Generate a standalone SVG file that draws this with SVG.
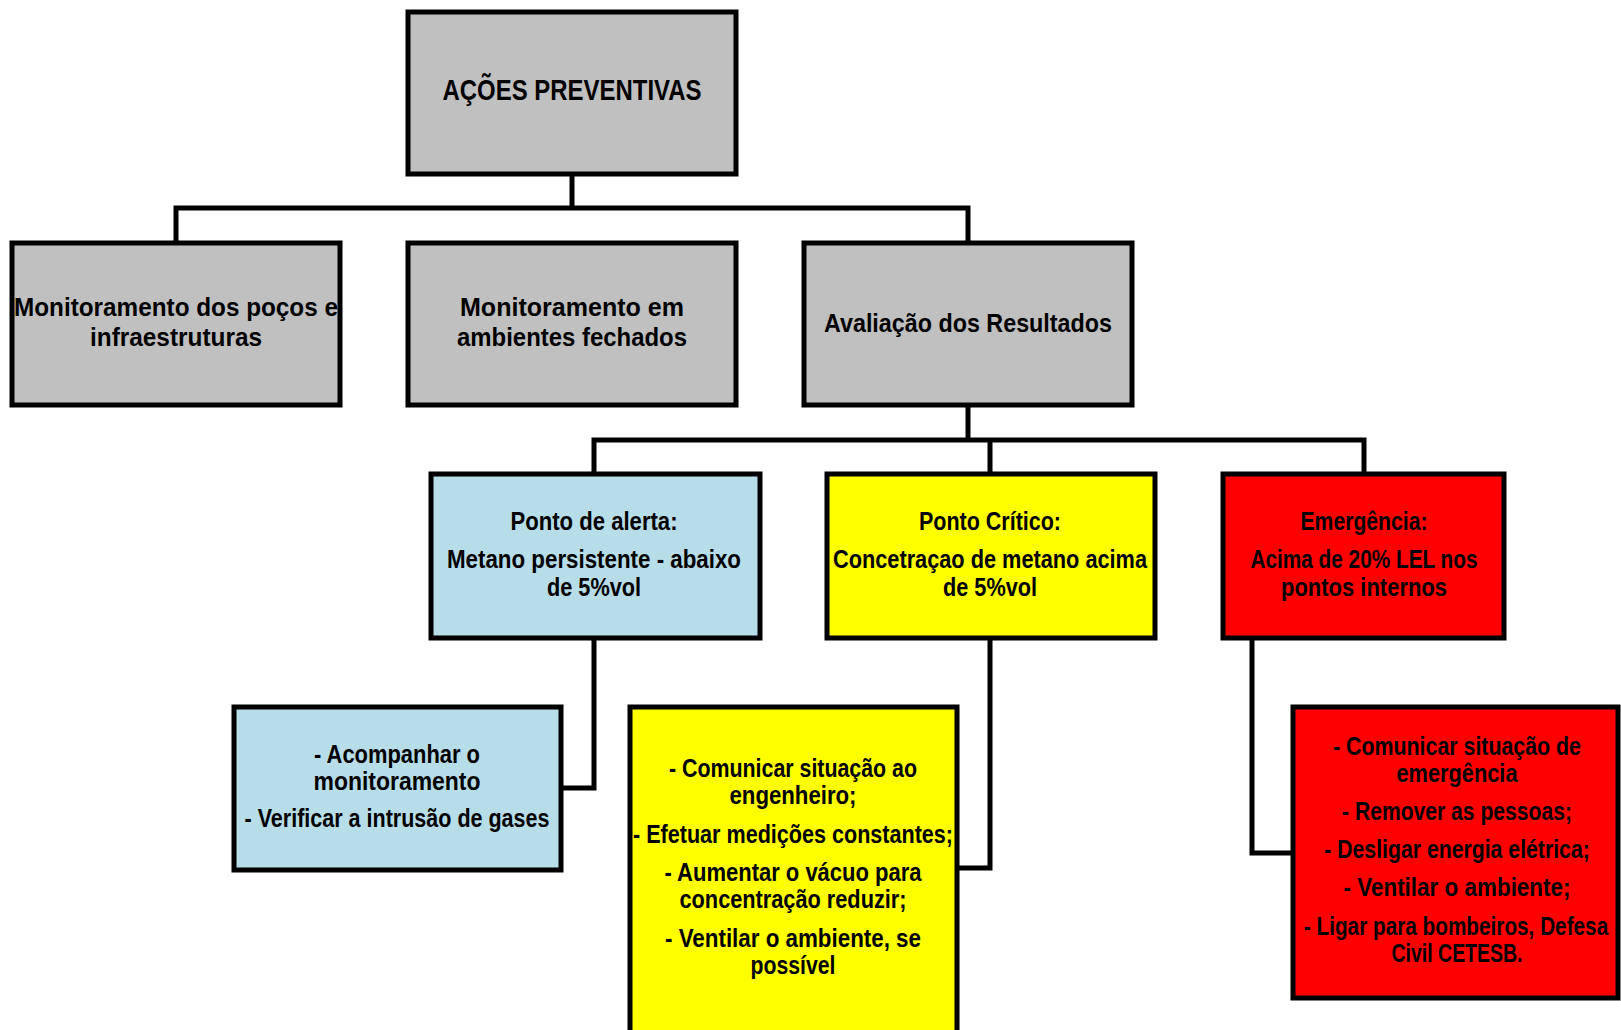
<svg xmlns="http://www.w3.org/2000/svg" width="1621" height="1030" viewBox="0 0 1621 1030">
<style>
.box{stroke:#000;stroke-width:5}
.gray{fill:#c0c0c0}
.blue{fill:#b7dde8}
.yellow{fill:#ffff00}
.red{fill:#ff0000}
.t{font-family:"Liberation Sans",Arial,sans-serif;font-weight:bold;font-size:25px;text-anchor:middle;fill:#000}
.big{font-size:30px}
.conn{fill:none;stroke:#000;stroke-width:5}
</style>
<rect width="1621" height="1030" fill="#fff"/>
<g id="connectors">
<path class="conn" d="M572 174V208M176 243V208H968V243"/>
<path class="conn" d="M968 405V440M594 474V440H1364V474M990 440V474"/>
<path class="conn" d="M594 638V788H561"/>
<path class="conn" d="M990 638V868H957"/>
<path class="conn" d="M1252 638V853H1293"/>
</g>
<g id="acoes">
<rect class="box gray" x="408" y="12" width="328" height="162"/>
<text class="t big" x="572" y="100" textLength="259" lengthAdjust="spacingAndGlyphs">AÇÕES PREVENTIVAS</text>
</g>
<g id="monitor-pocos">
<rect class="box gray" x="12" y="243" width="328" height="162"/>
<text class="t" x="176" y="316" textLength="324" lengthAdjust="spacingAndGlyphs">Monitoramento dos poços e</text>
<text class="t" x="176" y="346" textLength="172" lengthAdjust="spacingAndGlyphs">infraestruturas</text>
</g>
<g id="monitor-ambientes">
<rect class="box gray" x="408" y="243" width="328" height="162"/>
<text class="t" x="572" y="316" textLength="224" lengthAdjust="spacingAndGlyphs">Monitoramento em</text>
<text class="t" x="572" y="346" textLength="230" lengthAdjust="spacingAndGlyphs">ambientes fechados</text>
</g>
<g id="avaliacao">
<rect class="box gray" x="804" y="243" width="328" height="162"/>
<text class="t" x="968" y="332" textLength="288" lengthAdjust="spacingAndGlyphs">Avaliação dos Resultados</text>
</g>
<g id="alerta">
<rect class="box blue" x="431" y="474" width="329" height="164"/>
<text class="t" x="594" y="530" textLength="167" lengthAdjust="spacingAndGlyphs">Ponto de alerta:</text>
<text class="t" x="594" y="568" textLength="294" lengthAdjust="spacingAndGlyphs">Metano persistente - abaixo</text>
<text class="t" x="594" y="596" textLength="94" lengthAdjust="spacingAndGlyphs">de 5%vol</text>
</g>
<g id="critico">
<rect class="box yellow" x="827" y="474" width="328" height="164"/>
<text class="t" x="990" y="530" textLength="142" lengthAdjust="spacingAndGlyphs">Ponto Crítico:</text>
<text class="t" x="990" y="568" textLength="314" lengthAdjust="spacingAndGlyphs">Concetraçao de metano acima</text>
<text class="t" x="990" y="596" textLength="94" lengthAdjust="spacingAndGlyphs">de 5%vol</text>
</g>
<g id="emergencia">
<rect class="box red" x="1223" y="474" width="281" height="164"/>
<text class="t" x="1364" y="530" textLength="127" lengthAdjust="spacingAndGlyphs">Emergência:</text>
<text class="t" x="1364" y="568" textLength="227" lengthAdjust="spacingAndGlyphs">Acima de 20% LEL nos</text>
<text class="t" x="1364" y="596" textLength="166" lengthAdjust="spacingAndGlyphs">pontos internos</text>
</g>
<g id="acoes-alerta">
<rect class="box blue" x="234" y="707" width="327" height="163"/>
<text class="t" x="397" y="763" textLength="166" lengthAdjust="spacingAndGlyphs">- Acompanhar o</text>
<text class="t" x="397" y="790" textLength="167" lengthAdjust="spacingAndGlyphs">monitoramento</text>
<text class="t" x="397" y="827" textLength="305" lengthAdjust="spacingAndGlyphs">- Verificar a intrusão de gases</text>
</g>
<g id="acoes-critico">
<rect class="box yellow" x="630" y="707" width="327" height="330"/>
<text class="t" x="793" y="777" textLength="248" lengthAdjust="spacingAndGlyphs">- Comunicar situação ao</text>
<text class="t" x="793" y="804" textLength="127" lengthAdjust="spacingAndGlyphs">engenheiro;</text>
<text class="t" x="793" y="843" textLength="320" lengthAdjust="spacingAndGlyphs">- Efetuar medições constantes;</text>
<text class="t" x="793" y="881" textLength="257" lengthAdjust="spacingAndGlyphs">- Aumentar o vácuo para</text>
<text class="t" x="793" y="908" textLength="227" lengthAdjust="spacingAndGlyphs">concentração reduzir;</text>
<text class="t" x="793" y="947" textLength="256" lengthAdjust="spacingAndGlyphs">- Ventilar o ambiente, se</text>
<text class="t" x="793" y="974" textLength="85" lengthAdjust="spacingAndGlyphs">possível</text>
</g>
<g id="acoes-emergencia">
<rect class="box red" x="1293" y="707" width="325" height="291"/>
<text class="t" x="1457" y="755" textLength="248" lengthAdjust="spacingAndGlyphs">- Comunicar situação de</text>
<text class="t" x="1457" y="782" textLength="121" lengthAdjust="spacingAndGlyphs">emergência</text>
<text class="t" x="1457" y="820" textLength="230" lengthAdjust="spacingAndGlyphs">- Remover as pessoas;</text>
<text class="t" transform="translate(1457,858) scale(0.85,1)">- Desligar energia elétrica;</text>
<text class="t" x="1457" y="896" textLength="227" lengthAdjust="spacingAndGlyphs">- Ventilar o ambiente;</text>
<text class="t" transform="translate(1456,935) scale(0.83,1)">- Ligar para bombeiros, Defesa</text>
<text class="t" x="1457" y="962" textLength="131" lengthAdjust="spacingAndGlyphs">Civil CETESB.</text>
</g>
</svg>
